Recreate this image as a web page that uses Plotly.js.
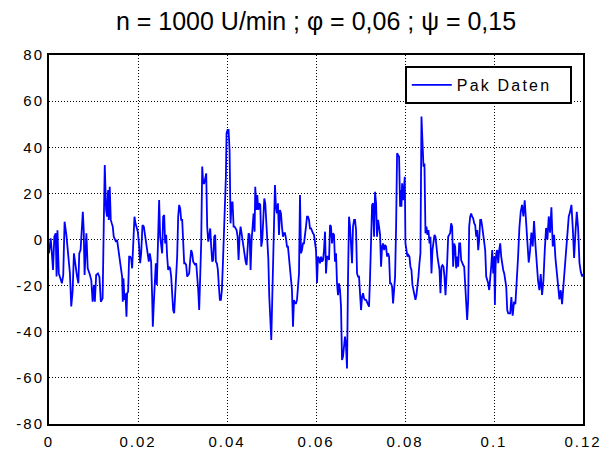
<!DOCTYPE html>
<html>
<head>
<meta charset="utf-8">
<script src="https://cdn.plot.ly/plotly-3.0.1.min.js"></script>
<style>
html,body{margin:0;padding:0;background:#fff;}
#chart{width:602px;height:453px;}
.xtick text,.ytick text{letter-spacing:2px;}
.legendtext{letter-spacing:2.2px;}
</style>
</head>
<body>
<div id="chart"></div>
<script>
const titleText = "n = 1000 U/min ; \u03C6 = 0,06 ; \u03C8 = 0,15";
const seriesName = "Pak Daten";
const xTickVals = [0, 0.02, 0.04, 0.06, 0.08, 0.1, 0.12];
const xTickText = ["0", "0.02", "0.04", "0.06", "0.08", "0.1", "0.12"];
const yTickVals = [-80, -60, -40, -20, 0, 20, 40, 60, 80];
const yTickText = ["-80", "-60", "-40", "-20", "0", "20", "40", "60", "80"];

const timeS = [
0.0000,0.00038,0.0006,0.0009,0.0012,0.0015,0.0017,0.0019,0.0022,0.0026,0.0029,0.0032,0.0035,0.0039,0.0043,0.0047,0.0050,0.0053,0.0056,0.0059,
0.0063,0.0066,0.0068,0.0071,0.0074,0.0076,0.0078,0.0080,0.0084,0.0087,0.0091,0.0095,0.0098,0.0101,0.0103,0.0106,
0.0110,0.01133,0.01165,0.01205,0.0123,0.01253,0.01283,0.01305,0.01328,0.01343,0.01365,0.01388,0.0141,0.01433,0.01455,0.01478,0.01508,0.0153,
0.0156,0.0159,0.0162,0.01643,0.01658,0.01673,0.01696,0.01718,0.01741,0.01756,0.01778,0.01801,0.01823,0.01846,0.01868,0.01891,0.01921,0.01943,
0.01966,0.01996,0.02026,0.02048,0.02071,0.02101,0.02131,0.02161,0.02191,0.02221,0.02243,0.02265,0.02295,0.02318,0.02333,0.02355,0.02378,0.024,
0.02423,0.02445,
0.02475,0.02498,0.0252,0.02543,0.02565,0.02588,0.0261,0.02633,0.02655,0.02678,0.027,0.02723,0.02745,0.02768,0.0279,0.02813,0.02835,0.02858,
0.0288,0.02903,0.02925,0.02948,0.0297,0.02993,0.03015,0.03038,0.0306,0.03083,0.03105,0.03128,0.0315,0.03173,0.03195,0.03218,0.0324,0.03263,
0.03285,0.03308,0.0333,0.03353,0.03375,0.03398,0.0342,0.03443,0.03465,0.03488,0.0351,0.03533,0.03555,0.03578,0.036,0.03623,0.03645,0.03668,
0.0369,0.03713,0.03735,
0.0375,0.03773,0.03795,0.03818,0.0384,0.03863,0.03885,0.03908,0.0393,0.03953,0.03975,0.0399,0.04013,0.04035,0.04058,0.0408,0.04103,0.04125,
0.04148,0.0417,0.04193,0.04215,0.04238,0.0426,0.04283,0.04305,0.04328,0.0435,0.04373,0.04395,0.04418,0.0444,0.04463,0.04485,0.04508,0.0453,
0.04553,0.04575,0.04598,0.0462,0.04635,0.04658,0.0468,0.04703,0.04725,0.04748,0.0477,0.04793,0.04815,0.04838,0.0486,0.04883,0.04905,0.04928,
0.0495,0.04973,0.04995,0.05018,0.0504,0.05063,
0.05078,0.051,0.05123,0.05145,0.05168,0.0519,0.05213,0.05235,0.05258,0.0528,0.05303,0.05325,0.05348,0.0537,0.05393,0.05415,0.05438,0.0546,
0.05483,0.05505,0.05528,0.0555,0.05573,0.05595,0.05618,0.0564,0.05663,0.05685,0.05708,0.0573,0.05753,0.05775,0.05798,0.0582,0.05843,0.05865,
0.05888,0.0591,0.05933,0.05955,0.05978,0.06,0.06023,0.06045,0.06068,0.0609,0.06113,0.06135,0.06158,0.0618,0.06203,0.06225,0.06248,0.0627,0.06293,
0.06315,0.06337,0.0636,0.06382,0.06405,0.06427,0.0645,0.06472,0.06495,0.06517,0.0654,0.06562,0.06585,0.06607,0.0663,0.06652,0.06675,0.06697,
0.0672,0.06742,0.06765,0.06787,0.0681,0.06832,0.06855,0.06877,0.069,0.06922,0.06945,0.06967,0.0699,0.07012,0.07035,0.07057,0.0708,0.07102,
0.07125,0.07147,0.0717,0.07192,0.07215,0.07237,0.0726,0.07282,0.07305,0.07327,0.0735,0.07372,0.07395,0.07417,0.0744,0.07462,0.07485,0.07507,
0.0753,0.07552,0.07575,0.07597,
0.0762,0.07642,0.07665,0.07687,0.0771,0.07732,0.07755,0.07777,0.078,0.07822,0.07845,0.07867,0.0789,0.07905,0.0792,0.07935,0.07957,0.0798,
0.07995,0.0801,0.08032,0.08055,0.08077,0.081,0.08122,0.08145,0.08167,0.0819,0.08212,0.08235,0.08257,0.0828,0.08302,0.08325,0.08347,0.0837,
0.08392,0.08415,0.08437,0.0846,0.08482,0.08505,0.08527,0.0855,0.08572,0.08595,0.08617,0.0864,0.08662,0.08685,0.08707,0.0873,0.08752,0.08775,
0.08797,0.0882,0.08842,0.08865,0.08887,0.0891,
0.08947,0.0897,0.08992,0.09015,0.09037,0.0906,0.09082,0.09105,0.09127,0.0915,0.09172,0.09195,0.09217,0.0924,0.09262,0.09285,0.09307,0.0933,
0.09352,0.09375,0.09397,0.0942,0.09442,0.09465,0.09487,0.0951,0.09532,0.09555,0.09577,0.096,0.09622,0.09645,0.09667,0.0969,0.09712,0.09735,
0.09757,0.0978,0.09802,0.09825,0.09847,0.0987,0.09892,0.09915,0.09937,0.0996,0.09982,0.10005,0.1002,0.10035,0.1005,0.10072,0.10095,0.10117,
0.1014,0.10162,0.10185,0.10207,0.1023,0.10252,0.10275,0.10297,0.1032,0.10365,
0.1039,0.1042,0.1045,0.1048,0.1051,0.1054,0.1057,0.1060,0.1063,0.1066,0.1069,0.1072,0.1075,0.1078,0.1081,0.1084,0.1087,0.1090,0.1093,0.1096,
0.1099,0.1102,0.1105,0.1108,0.1111,0.1114,0.1117,0.1120,0.1123,0.1126,0.1129,0.1132,0.1135,0.1138,0.1141,0.1144,0.1147,0.1150,0.1153,0.1156,
0.1159,0.1162,0.1165,0.1168,0.1171,0.1174,0.1177,0.1180,0.1183,0.1186,0.1189,0.1192,0.1195,0.1198,0.1200
];

const pakDaten = [
-6.0,0.5,-4.6,-13.2,1.2,2.7,-16,4,-14.7,-17.6,-19,-15.4,7.7,2,-6,-14.7,-29,-22.6,-6,-11,
-16,-19,-6,-4.5,8.4,12,4,-15.4,2.7,-12.5,-14.7,-17.6,-27,-19.7,-27,-15.4,
-14.7,-16.2,-27,-25.5,5.6,32.3,12.8,9.9,21.5,8.5,22.9,8.5,7,5.6,1.2,-0.2,-1,-0.2,
-4.6,-7.4,-13.2,-16.2,-27,-16.8,-26.2,-23.3,-33.5,-23.3,-22.6,-7.4,-7.4,-8.2,-12.5,-3.1,9.9,7,
5.6,3.4,-3.1,-10.3,-6,6.3,5.6,2,-1.7,-6,-9.6,-6,-9.6,-24.8,-37.8,-27.7,-19,-10.3,
-19.7,-6,
17.1,1.2,-1.7,-6,9.9,10.6,-1.7,2,-7.4,-13.2,-11.8,-12.5,-16.1,-21.9,-30.6,-32,-23.3,-20.4,
-7.4,9.9,15,13.5,8.5,8.5,-4.6,-10.3,-10.3,-11.1,-16.1,-15.4,-14.7,-8.9,-4.6,-6,-9.6,-10.3,
-11.1,-10.3,-14.7,-21.9,-30.6,-17.6,-1.7,31.6,24.4,24.4,27.2,28.7,5.6,-0.9,1.2,4.8,-3.1,-9.6,
-8.9,1.2,2,
-9.6,-10.3,-13.2,-20.5,-26.2,-26.2,-21.9,-10.3,-0.2,12.8,27.2,46,47.5,47.5,38.8,7,15.7,16.4,
5.6,5.6,4.8,4.1,1.2,-8.9,1.2,5.6,2.7,-0.2,-4.6,-7.4,-9.6,-11.1,-0.2,2.7,2,-13.2,
-0.2,7.7,11.3,3.4,22.9,12.8,19.3,12.8,15.7,15,-3.1,-0.2,8.5,17.8,15.7,8.5,1.2,-8.2,
-24.8,-39.2,-43.6,-24.8,-8.9,8.5,
23.6,14.2,11.3,15.7,2,12.8,11.3,5.6,1.2,2.7,2.7,0.5,-3.1,-3.1,-7.4,-10.3,-16.1,-21.9,
-37.8,-26.2,-27.7,-27.7,-26.2,-21.9,-14.7,19.3,-6,-4.6,-1.7,-1.7,1.2,5.6,9.9,9.9,8.5,4.8,
4.8,3.4,2.7,2,-1.7,-4.6,-18.9,-7.4,-8.2,-10.3,-7.4,-9.6,-8.9,-4.6,3.4,-14.7,-7.4,-7.4,-8.9,
6.3,5.6,-1.7,2.7,2,-9.6,-6,-19,-24.1,-19,-21.9,-29.1,-52.2,-50.8,-45,-42.1,-46.5,-55.9,
-16.1,9.9,5.6,-4.6,-10.3,5.6,8.5,8.5,4.1,-14.7,-16.1,-16.1,-27.7,-30.6,-24.8,-23.3,-25.5,-26.2,
-26.2,-27,-27.7,-29.1,-16.1,-0.2,15,15.7,1.2,20.7,15.7,1.2,8.5,5.6,2,-11.8,-3.1,-1.7,
-4.6,-2.4,-3.1,-7.4,
-6,-7.4,-19,-19,-20.5,-27.7,-20.5,-16.1,5.6,37.4,36.6,35.9,14.2,21.5,14.2,24.4,17.1,21.5,
27.2,-1.7,-6,-7.4,-6.7,-7.4,-11.8,-13.2,-19.7,-22.6,-24.8,-26.2,-24.1,-20.5,-16.1,-10.3,-6,53.3,
41.7,31.6,33,2.7,5.6,2,4.1,-1.7,1.2,-14.7,-4.6,-1.7,2,1.2,-4.6,-7.4,-10.3,-13.2,
-23.3,-11.8,-11.1,-11.8,-16.1,-24.1,
-10.3,1.2,2,2.7,7,5.6,-11.8,-1.7,-3.1,-12.5,-7.4,-11.8,-1.7,-1.7,-8.9,-10.3,-11.1,-11.8,
-19,-26.2,-34.9,-26.2,5.6,9.9,11.3,9.9,9.2,7,6.3,1.2,4.1,-4.6,-0.2,8.5,8.5,5.6,
1.2,-1.7,-4.6,-16.1,-17.6,-19,-21.9,-13.9,-11.8,-4.6,-14.7,-7.4,-28.4,-11.8,-6,-4.6,-10.3,-4.6,
-1.7,-7.4,-11.8,-13.2,-14.7,-19,-20.5,-30.6,-32,-32,
-25,-33,-27,-28,-20,-8,5,12,15,10,17,8,0,-10,-5,3,-3,8,-2,-12,
-18,-22,-15,-24,-18,-5,5,0,10,3,14,-3,2,-8,-15,-20,-26,-22,-28,-20,
-12,-5,5,10,12,15,5,-8,3,12,5,-10,-14,-16,-15
];

const FONT = "'Liberation Sans', Arial, sans-serif";

const trace = {
  x: timeS,
  y: pakDaten,
  type: 'scatter',
  mode: 'lines',
  name: seriesName,
  line: {color: '#0000ff', width: 1.8}
};

const axisCommon = {
  showgrid: true,
  gridcolor: '#000000',
  griddash: '1px,2px',
  gridwidth: 1,
  showline: true,
  linecolor: '#000000',
  linewidth: 2,
  mirror: true,
  ticks: '',
  zeroline: false,
  tickfont: {family: FONT, size: 15, color: '#000000'}
};

const layout = {
  width: 602,
  height: 453,
  margin: {l: 49, r: 19, t: 55, b: 29, pad: 0},
  paper_bgcolor: '#ffffff',
  plot_bgcolor: '#ffffff',
  title: {
    text: titleText,
    font: {family: FONT, size: 25, color: '#000000'},
    x: 0.5, xref: 'paper', xanchor: 'center',
    y: 0.953, yref: 'container', yanchor: 'middle'
  },
  xaxis: Object.assign({}, axisCommon, {
    range: [0, 0.12],
    tickmode: 'array',
    tickvals: xTickVals,
    ticktext: xTickText,
    ticklabelstandoff: 3
  }),
  yaxis: Object.assign({}, axisCommon, {
    range: [-80, 80],
    tickmode: 'array',
    tickvals: yTickVals,
    ticktext: yTickText,
    ticklabelstandoff: 0
  }),
  showlegend: true,
  legend: {
    orientation: 'h',
    x: 0.979, xanchor: 'right',
    y: 0.970, yanchor: 'top',
    bgcolor: '#ffffff',
    bordercolor: '#000000',
    borderwidth: 2,
    itemwidth: 40,
    entrywidth: 108,
    font: {family: FONT, size: 16, color: '#000000'}
  }
};

Plotly.newPlot('chart', [trace], layout, {staticPlot: true, displayModeBar: false});
</script>
</body>
</html>
